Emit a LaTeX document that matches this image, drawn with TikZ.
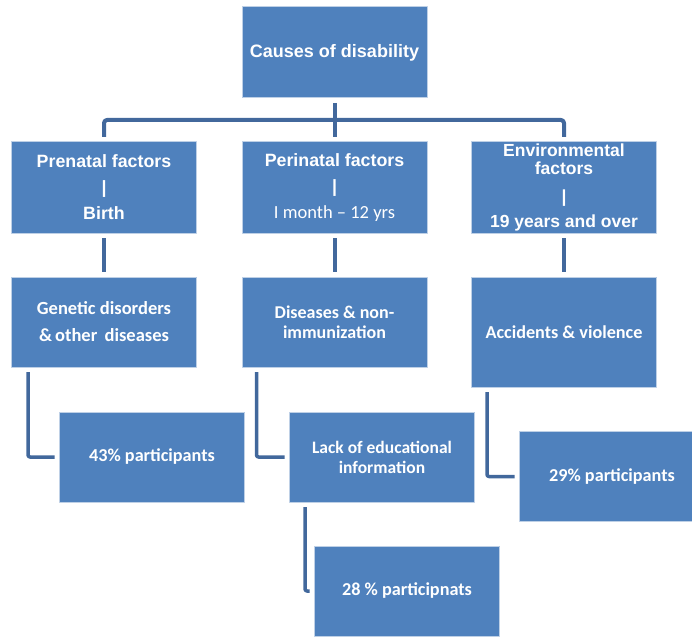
\documentclass[tikz,border=0pt]{standalone}
\usepackage{fontspec}
\setmainfont{Carlito}
\newfontfamily\arialf{Liberation Sans}
\definecolor{boxblue}{RGB}{79,129,189}
\definecolor{boxedge}{RGB}{190,208,230}
\definecolor{linkblue}{RGB}{66,104,156}

\begin{document}
\begin{tikzpicture}[x=1pt, y=-1pt,
				line join=round,
				box/.style = {draw=boxedge, line width=1pt, fill=boxblue, text=white,
					inner sep=2pt, align=center, minimum width=185pt, minimum height=90pt,
					font=\fontsize{18.2}{26}\selectfont\bfseries},
				link/.style = {draw=linkblue, line width=4pt, shorten <=4.5pt, shorten >=4.5pt},
				elbow/.style = {link, line width=3.5pt, rounded corners=2pt}
				]
				\useasboundingbox (0,0) rectangle (692,636);
				% top row
				\node[box, minimum height=91pt, font=\fontsize{18}{26}\selectfont\bfseries] (cause) at (334.5,52.5) {\arialf Causes of disability};
				\node[box, minimum height=91pt, font=\fontsize{17.8}{26}\selectfont\bfseries] (prenatal) at (104,187.5) {\arialf Prenatal factors\\ \arialf|\\ \arialf Birth};
				\node[box, minimum height=91pt, font=\fontsize{17.8}{26}\selectfont\bfseries] (perinatal) at (334.5,187.5)
					{\arialf Perinatal factors\\ \arialf|\\ \fontsize{18.5}{26}\selectfont\mdseries I month -- 12 yrs};
				\node[box, minimum height=91pt, font=\fontsize{17.5}{18}\selectfont\bfseries] (environ) at (564,187.5)
					{\arialf Environmental\\ \arialf factors\\[10pt] \arialf|\\[7pt] \arialf 19 years and over};
				% second row
				\node[box, font=\fontsize{18.5}{27}\selectfont\bfseries] (genetic) at (104,322) {Genetic disorders\\ \&\,other\, diseases};
				\node[box, font=\fontsize{18}{20}\selectfont\bfseries] (disease) at (334.5,322) {Diseases \& non-\\ immunization};
				\node[box, minimum height=110pt] (accident) at (564,332) {Accidents \& violence};
				% results
				\node[box] (pct43) at (152,457) {43\% participants};
				\node[box, font=\fontsize{17.5}{20}\selectfont\bfseries] (lack) at (382,457) {Lack of educational\\ information};
				\node[box] (pct28) at (407,591) {28 \% participnats};
				\node[box] (pct29) at (612,476.5) {29\% participants};
				% connectors
				\coordinate (bar) at (334.5,120);
				\draw[link] (cause) -- (perinatal);
				\draw[link, rounded corners=3pt] (prenatal.north) -- (prenatal.north |- bar) -- (environ.north |- bar) -- (environ.north);
				\draw[link] (prenatal) -- (genetic);
				\draw[link] (perinatal) -- (disease);
				\draw[link] (environ) -- (accident);
				\draw[elbow] ([xshift=17pt]genetic.south west) |- (pct43.west);
				\draw[elbow] ([xshift=15pt]disease.south west) |- (lack.west);
				\draw[elbow] ([xshift=16pt]lack.south west) |- (pct28.west);
				\draw[elbow] ([xshift=16pt]accident.south west) |- (pct29.west);
\end{tikzpicture}
\end{document}
